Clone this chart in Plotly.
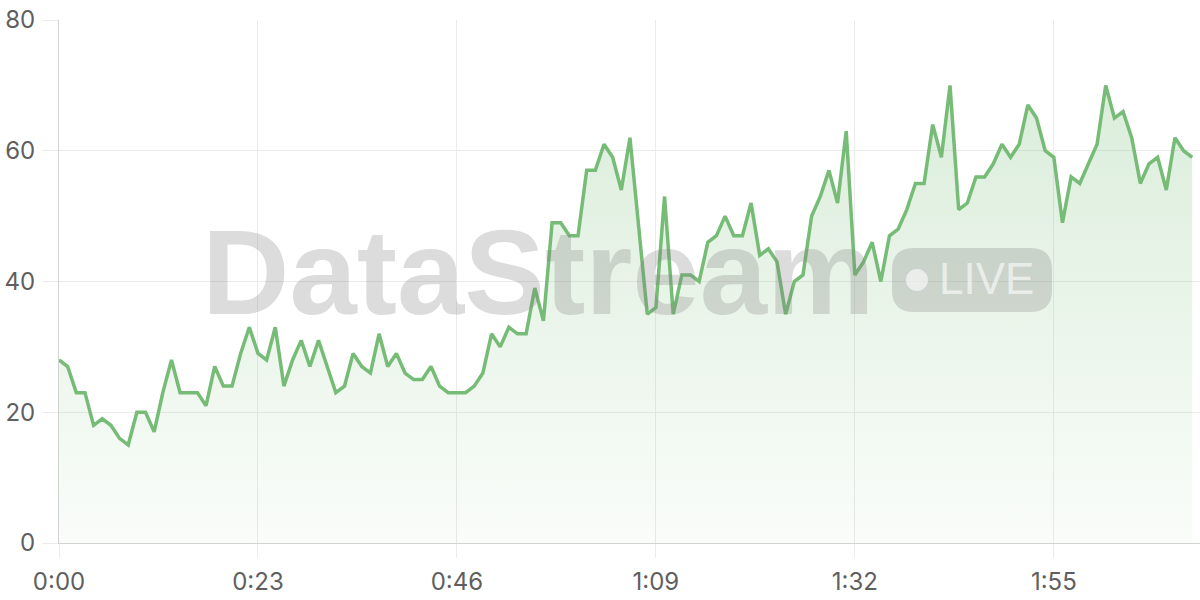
import plotly.graph_objects as go

# ---- data ----
values = [28, 27, 23, 23, 18, 19, 18, 16, 15, 20,
          20, 17, 23, 28, 23, 23, 23, 21, 27, 24,
          24, 29, 33, 29, 28, 33, 24, 28, 31, 27,
          31, 27, 23, 24, 29, 27, 26, 32, 27, 29,
          26, 25, 25, 27, 24, 23, 23, 23, 24, 26,
          32, 30, 33, 32, 32, 39, 34, 49, 49, 47,
          47, 57, 57, 61, 59, 54, 62, 48, 35, 36,
          53, 35, 41, 41, 40, 46, 47, 50, 47, 47,
          52, 44, 45, 43, 35, 40, 41, 50, 53, 57,
          52, 63, 41, 43, 46, 40, 47, 48, 51, 55,
          55, 64, 59, 70, 51, 52, 56, 56, 58, 61,
          59, 61, 67, 65, 60, 59, 49, 56, 55, 58,
          61, 70, 65, 66, 62, 55, 58, 59, 54, 62,
          60, 59]
seconds = list(range(len(values)))
x_tick_vals = [0, 23, 46, 69, 92, 115]
x_tick_text = ["0:00", "0:23", "0:46", "1:09", "1:32", "1:55"]
y_tick_vals = [0, 20, 40, 60, 80]

LINE = "#76bc76"
GRID = "#ebebeb"
AXIS = "#d2d2d2"
TICKFONT = dict(family="Inter, sans-serif", size=24, color="#5f5f5f")

# plot area geometry (pixels)
W, H = 1200, 600
L, R, T, B = 59, 0, 20, 57
PW, PH = W - L - R, H - T - B


def px(xp):
    return (xp - L) / PW


def py(yp):
    return (H - B - yp) / PH


fig = go.Figure()
fig.add_trace(go.Scatter(
    x=seconds, y=values, mode="lines",
    line=dict(color=LINE, width=3.5),
    fill="tozeroy",
    fillgradient=dict(type="vertical", start=0, stop=72,
                      colorscale=[[0, "rgba(118,188,118,0.04)"],
                                  [1, "rgba(118,188,118,0.27)"]]),
    hoverinfo="skip",
))

# watermark
WM = "rgba(128,128,128,0.28)"
fig.add_annotation(text="<b>DataStream</b>", xref="paper", yref="paper",
                   x=px(538.5), y=py(271.5), xanchor="center", yanchor="middle",
                   showarrow=False,
                   font=dict(family="Liberation Sans, Arial, sans-serif", size=121, color=WM))
# badge (rounded rectangle, pixel-sized around an anchor)
hw, hh, r = 80, 32, 22
path = (f"M {-hw + r},{-hh} L {hw - r},{-hh} Q {hw},{-hh} {hw},{-hh + r} "
        f"L {hw},{hh - r} Q {hw},{hh} {hw - r},{hh} L {-hw + r},{hh} "
        f"Q {-hw},{hh} {-hw},{hh - r} L {-hw},{-hh + r} Q {-hw},{-hh} {-hw + r},{-hh} Z")
fig.add_shape(type="path", xref="paper", yref="paper", xsizemode="pixel", ysizemode="pixel",
              xanchor=px(972), yanchor=py(280), path=path,
              fillcolor=WM, line=dict(width=0), layer="above")
fig.add_shape(type="circle", xref="paper", yref="paper", xsizemode="pixel", ysizemode="pixel",
              xanchor=px(917), yanchor=py(280), x0=-11, x1=11, y0=-11, y1=11,
              fillcolor="rgba(255,255,255,0.6)", line=dict(width=0), layer="above")
fig.add_annotation(text="LIVE", xref="paper", yref="paper",
                   x=px(986.5), y=py(278.6), xanchor="center", yanchor="middle",
                   showarrow=False,
                   font=dict(family="Liberation Sans, Arial, sans-serif", size=44,
                             color="rgba(255,255,255,0.6)"))

fig.update_layout(
    width=W, height=H,
    margin=dict(l=L, r=R, t=T, b=B),
    paper_bgcolor="white", plot_bgcolor="white",
    showlegend=False,
    xaxis=dict(range=[0, PW / 8.6507], tickvals=x_tick_vals, ticktext=x_tick_text,
               showgrid=True, gridcolor=GRID, gridwidth=1,
               showline=True, linecolor=AXIS, linewidth=1,
               ticks="outside", ticklen=14, tickcolor=GRID, tickwidth=1,
               ticklabelstandoff=3,
               tickfont=TICKFONT, zeroline=False, fixedrange=True),
    yaxis=dict(range=[0, 80], tickvals=y_tick_vals,
               showgrid=True, gridcolor=GRID, gridwidth=1,
               showline=True, linecolor=AXIS, linewidth=1,
               ticks="outside", ticklen=16, tickcolor=GRID, tickwidth=1,
               ticklabelstandoff=2,
               tickfont=TICKFONT, zeroline=False, fixedrange=True),
)

fig.write_html("out.html", config={"displayModeBar": False},
               post_script="document.body.style.margin='0';document.body.style.overflow='hidden';")
